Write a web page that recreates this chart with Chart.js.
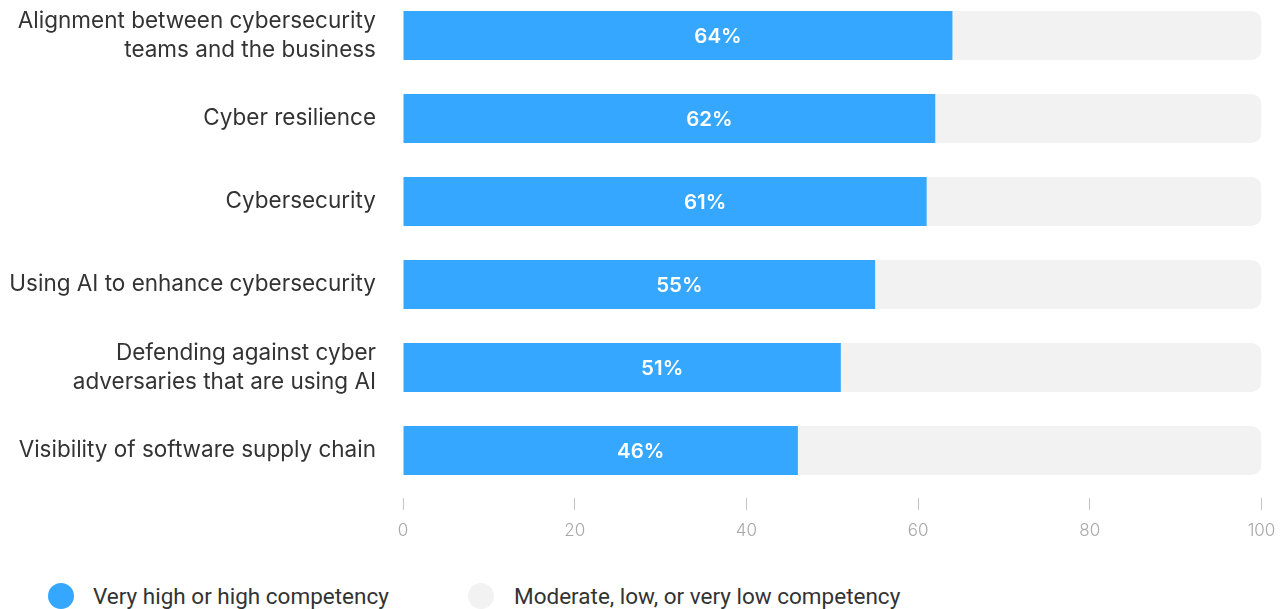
<!DOCTYPE html>
<html>
<head>
<meta charset="utf-8">
<script src="https://cdn.jsdelivr.net/npm/chart.js@4"></script>
<style>
  body { margin: 0; background: #fff; overflow: hidden; }
  #wrap { position: absolute; left: 0; top: -6px; width: 1282px; height: 566px; }
  .legend { position: absolute; top: 583px; left: 0; font-family: "Roboto", sans-serif; font-size: 22.5px; color: #333; }
  .legend .item { position: absolute; top: 0; white-space: nowrap; }
  .legend .dot { position: absolute; top: 0; width: 26px; height: 26px; border-radius: 50%; }
  .legend .txt { position: absolute; top: 0; line-height: 26px; }
</style>
</head>
<body>
<div id="wrap"><canvas id="competencyChart"></canvas></div>
<div class="legend" id="legend"></div>

<script>
// Categories and values
const categories = [
  ["Alignment between cybersecurity", "teams and the business"],
  "Cyber resilience",
  "Cybersecurity",
  "Using AI to enhance cybersecurity",
  ["Defending against cyber", "adversaries that are using AI"],
  "Visibility of software supply chain",
];
const highCompetency = [64, 62, 61, 55, 51, 46];
const lowCompetency = highCompetency.map((v) => 100 - v);
const seriesNames = [
  "Very high or high competency",
  "Moderate, low, or very low competency",
];
const xTicks = [0, 20, 40, 60, 80, 100];

const blue = "#36a7ff";
const grey = "#f2f2f2";

// Percent labels inside the blue bars
const valueLabels = {
  id: "valueLabels",
  afterDatasetsDraw(chart) {
    const ctx = chart.ctx;
    const meta = chart.getDatasetMeta(0);
    ctx.save();
    ctx.fillStyle = "#fff";
    ctx.font = "600 20.5px Inter, sans-serif";
    ctx.textAlign = "center";
    ctx.textBaseline = "middle";
    meta.data.forEach((bar, i) => {
      const cx = (bar.base + bar.x) / 2 + 40;
      ctx.fillText(highCompetency[i] + "%", cx, bar.y + 1);
    });
    ctx.restore();
  },
};

const ctx = document.getElementById("competencyChart").getContext("2d");
const chart = new Chart(ctx, {
  type: "bar",
  data: {
    labels: categories,
    datasets: [
      {
        label: seriesNames[0],
        data: highCompetency,
        backgroundColor: blue,
        borderRadius: 0,
        barPercentage: 0.59,
        categoryPercentage: 1,
      },
      {
        label: seriesNames[1],
        data: lowCompetency,
        backgroundColor: grey,
        borderRadius: { topRight: 10, bottomRight: 10 },
        borderSkipped: false,
        barPercentage: 0.59,
        categoryPercentage: 1,
      },
    ],
  },
  options: {
    indexAxis: "y",
    responsive: true,
    maintainAspectRatio: false,
    animation: false,
    layout: { padding: { top: 0, right: 20.5, bottom: 0, left: 0 } },
    plugins: {
      legend: { display: false },
      tooltip: { enabled: false },
    },
    scales: {
      x: {
        stacked: true,
        min: 0,
        max: 100,
        afterBuildTicks: (scale) => {
          scale.ticks = xTicks.map((v) => ({ value: v }));
        },
        afterFit: (scale) => {
          scale.height = 68;
          scale.paddingLeft = 0;
          scale.paddingRight = 0;
        },
        border: { display: false },
        grid: {
          drawOnChartArea: false,
          drawTicks: true,
          tickLength: 18,
          tickColor: "#c4c4c4",
          tickWidth: 1,
          tickBorderDash: [0, 6, 12, 100],
        },
        ticks: {
          color: "#a8a8a8",
          padding: 11,
          maxRotation: 0,
          font: { family: "Inter, sans-serif", size: 17, weight: "300" },
        },
      },
      y: {
        stacked: true,
        afterFit: (scale) => {
          // fixed label column, no extra room for the wrapped labels
          scale.width = 403;
          scale.paddingTop = 0;
          scale.paddingBottom = 0;
        },
        border: { display: false },
        grid: { display: false, drawTicks: false },
        ticks: {
          color: "#333",
          padding: 27,
          font: { family: "Inter, sans-serif", size: 22.5, lineHeight: 1.29 },
        },
      },
    },
  },
  plugins: [valueLabels],
});

// HTML legend below the chart
const legendEl = document.getElementById("legend");
const legendPos = [
  { dot: 48, text: 93 },
  { dot: 468, text: 514 },
];
chart.data.datasets.forEach((ds, i) => {
  const item = document.createElement("div");
  item.className = "item";
  item.innerHTML = `
    <span class="dot" style="left:${legendPos[i].dot}px;background:${ds.backgroundColor}"></span>
    <span class="txt" style="left:${legendPos[i].text}px">${ds.label}</span>
  `;
  legendEl.appendChild(item);
});
</script>
</body>
</html>
